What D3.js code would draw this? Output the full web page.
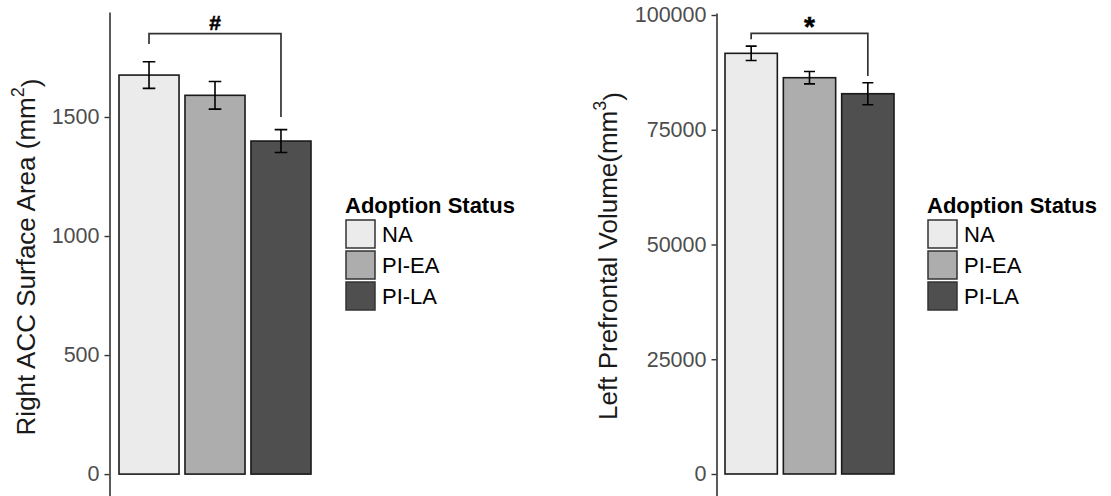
<!DOCTYPE html>
<html>
<head>
<meta charset="utf-8">
<script src="https://cdn.jsdelivr.net/npm/d3@7"></script>
<style>
  body { margin: 0; background: #fff; }
  text { font-family: "Liberation Sans", Arial, sans-serif; }
</style>
</head>
<body>
<div id="chart"></div>
<script>
// ---------------------------//
//            DATA            //
// ---------------------------//
const groups = ["NA", "PI-EA", "PI-LA"];
const fills = ["#ebebeb", "#adadad", "#4f4f4f"];

// Right ACC surface area (mm2)
const accMeans = [1676, 1591, 1399];
const accSE = [56, 58, 48];
const accTicks = [0, 500, 1000, 1500];
const accBracket = [1807, 1850, 1500];   // left end, top, right end

// Left prefrontal volume (mm3)
const pfcMeans = [91650, 86340, 82850];
const pfcSE = [1560, 1340, 2400];
const pfcTicks = [0, 25000, 50000, 75000, 100000];
const pfcBracket = [94700, 96000, 86700];

// ---------------------------//
//          CANVAS            //
// ---------------------------//
const W = 1111, H = 496;
const svg = d3.select("#chart")
    .append("svg")
    .attr("width", W)
    .attr("height", H);

function panel(o) {
    const g = svg.append("g");

    const y = d3.scaleLinear()
        .domain(o.yDomain)
        .range([496, o.yTop]);

    const x = d3.scaleBand()
        .domain(groups)
        .range(o.xRange)
        .paddingInner(o.padInner)
        .paddingOuter(0);

    // Y axis
    const axis = g.append("g")
        .attr("transform", `translate(${o.axisX},0)`)
        .call(d3.axisLeft(y)
            .tickValues(o.ticks)
            .tickFormat(d3.format("d"))
            .tickSize(5)
            .tickSizeOuter(0)
            .tickPadding(5));
    axis.select(".domain").attr("stroke", "#333").attr("stroke-width", 1.6);
    axis.selectAll(".tick line").attr("stroke", "#333").attr("stroke-width", 1.4);
    axis.selectAll(".tick text")
        .attr("fill", "#4d4d4d")
        .style("font-size", "21.5px")
        .style("font-family", "'Liberation Sans', Arial, sans-serif");

    // Bars
    g.selectAll(".bar")
        .data(o.means)
        .enter()
        .append("rect")
        .attr("x", (d, i) => x(groups[i]))
        .attr("y", d => y(d))
        .attr("width", x.bandwidth())
        .attr("height", d => y(0) - y(d))
        .attr("fill", (d, i) => fills[i])
        .attr("stroke", "#1a1a1a")
        .attr("stroke-width", 1.6);

    // Error bars
    const cap = x.bandwidth() * 0.21;
    o.means.forEach((m, i) => {
        const cx = x(groups[i]) + x.bandwidth() / 2;
        const lo = y(m - o.se[i]), hi = y(m + o.se[i]);
        g.append("path")
            .attr("d", `M${cx - cap / 2},${hi}H${cx + cap / 2}M${cx},${hi}V${lo}M${cx - cap / 2},${lo}H${cx + cap / 2}`)
            .attr("fill", "none")
            .attr("stroke", "#000")
            .attr("stroke-width", 1.6);
    });

    // Significance bracket NA vs PI-LA
    const bx1 = x(groups[0]) + x.bandwidth() / 2;
    const bx2 = x(groups[2]) + x.bandwidth() / 2;
    g.append("path")
        .attr("d", `M${bx1},${y(o.bracket[0])}V${y(o.bracket[1])}H${bx2}V${y(o.bracket[2])}`)
        .attr("fill", "none")
        .attr("stroke", "#333")
        .attr("stroke-width", 1.7);
    g.append("text")
        .attr("x", (bx1 + bx2) / 2)
        .attr("y", o.markY)
        .attr("text-anchor", "middle")
        .attr("stroke", "#000")
        .attr("stroke-width", 0.5)
        .style("font-size", o.markSize)
        .style("font-weight", "bold")
        .text(o.mark);

    // Y axis title
    const t = g.append("text")
        .attr("transform", `translate(${o.titleX},${o.titleY}) rotate(-90)`)
        .attr("text-anchor", "middle")
        .attr("fill", "#1a1a1a")
        .style("font-size", "26px");
    t.append("tspan").text(o.title);
    t.append("tspan").attr("dy", "-0.6em").style("font-size", "18px").text(o.sup);
    t.append("tspan").attr("dy", "0.6em").text(")");

    // Legend
    const lg = g.append("g").attr("transform", `translate(${o.legendX},0)`);
    lg.append("text")
        .attr("x", 0)
        .attr("y", 213)
        .style("font-size", "22px")
        .style("font-weight", "bold")
        .text("Adoption Status");
    groups.forEach((k, i) => {
        lg.append("rect")
            .attr("x", 1)
            .attr("y", 220 + i * 31)
            .attr("width", 29)
            .attr("height", 28)
            .attr("fill", fills[i])
            .attr("stroke", "#333")
            .attr("stroke-width", 1.5);
        lg.append("text")
            .attr("x", 37)
            .attr("y", 242 + i * 31)
            .style("font-size", "22px")
            .text(k);
    });
}

panel({
    means: accMeans, se: accSE, ticks: accTicks, bracket: accBracket,
    yDomain: [-92, 1941], yTop: 12,
    xRange: [119, 311], padInner: 0.09, axisX: 109.5,
    mark: "#", markSize: "21px", markY: 30,
    title: "Right ACC Surface Area (mm", sup: "2",
    titleX: 35, titleY: 257,
    legendX: 345
});

panel({
    means: pfcMeans, se: pfcSE, ticks: pfcTicks, bracket: pfcBracket,
    yDomain: [-4793, 100436], yTop: 13,
    xRange: [725, 894], padInner: 0.103, axisX: 716.5,
    mark: "*", markSize: "28px", markY: 36,
    title: "Left Prefrontal Volume(mm", sup: "3",
    titleX: 617, titleY: 256,
    legendX: 927
});
</script>
</body>
</html>
